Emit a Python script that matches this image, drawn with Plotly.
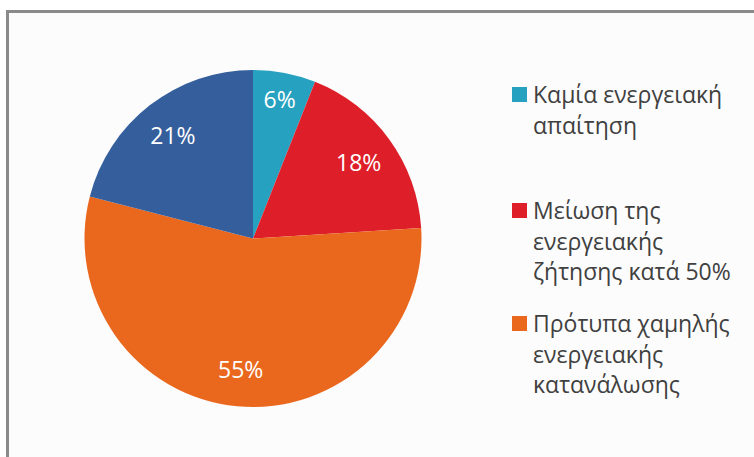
import plotly.graph_objects as go

labels = [
    "Καμία ενεργειακή<br>απαίτηση",
    "Μείωση της<br>ενεργειακής<br>ζήτησης κατά 50%",
    "Πρότυπα χαμηλής<br>ενεργειακής<br>κατανάλωσης",
    "Άλλο",
]
values = [6, 18, 55, 21]
colors = ["#27a1c0", "#de1f2a", "#ea681e", "#345e9c"]
legend_shown = [True, True, True, False]

W, H = 754, 457
dom = dict(x=[84.5 / W, 421.5 / W], y=[1 - 407 / H, 1 - 70 / H])
fig = go.Figure()
# slices
fig.add_trace(go.Pie(
    labels=labels, values=values, sort=False, direction="clockwise", rotation=0,
    marker=dict(colors=colors, line=dict(width=0)),
    textinfo="none", showlegend=False, hoverinfo="label+percent", domain=dom,
))
# value labels placed in an outer ring (text only)
fig.add_trace(go.Pie(
    labels=labels, values=values, sort=False, direction="clockwise", rotation=0,
    hole=0.55,
    marker=dict(colors=["rgba(0,0,0,0)"] * len(values), line=dict(width=0)),
    texttemplate="%{value}%", textposition="inside", insidetextorientation="horizontal",
    textfont=dict(color="white", size=23, family="Open Sans"),
    showlegend=False, hoverinfo="skip", domain=dom,
))

shapes = [dict(type="rect", xref="paper", yref="paper",
               x0=7.5 / W, x1=1.05, y0=-0.05, y1=1 - 11.5 / H,
               line=dict(color="#8a8a8a", width=3), fillcolor="#fcfcfc", layer="below")]
annotations = []
block_tops = [94, 210, 323]
line_gap = 30.5
k = 0
for lab, col, show in zip(labels, colors, legend_shown):
    if not show:
        continue
    y0 = block_tops[k]
    k += 1
    shapes.append(dict(type="rect", xref="paper", yref="paper",
                       x0=512 / W, x1=527 / W, y0=1 - (y0 + 8) / H, y1=1 - (y0 - 7) / H,
                       line=dict(width=0), fillcolor=col))
    for i, ln in enumerate(lab.split("<br>")):
        annotations.append(dict(xref="paper", yref="paper", x=531 / W, y=1 - (y0 + i * line_gap) / H,
                                xanchor="left", yanchor="middle", showarrow=False, text=ln,
                                font=dict(size=23, color="#404040", family="Open Sans")))

fig.update_layout(
    width=W, height=H,
    margin=dict(l=0, r=0, t=0, b=0),
    paper_bgcolor="white",
    shapes=shapes,
    annotations=annotations,
)
fig.write_html("out.html", config={"displayModeBar": False},
               post_script="document.body.style.margin='0';")
